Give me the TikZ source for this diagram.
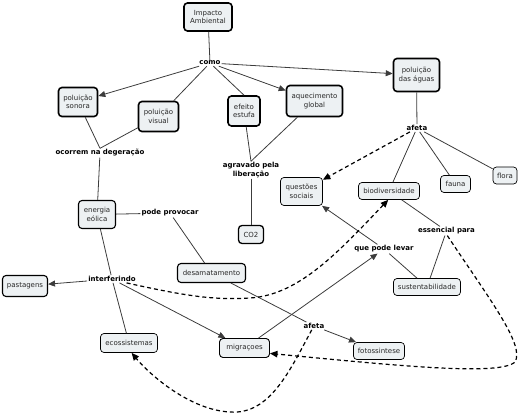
\documentclass[tikz,border=0pt]{standalone}
\usepackage{fontspec}
\setmainfont{DejaVu Sans}
\usetikzlibrary{arrows.meta}
\definecolor{boxfill}{RGB}{237,241,243}
\definecolor{linec}{RGB}{60,60,60}
\definecolor{txtc}{RGB}{40,40,40}
\begin{document}
\begin{tikzpicture}[x=1pt,y=-1pt,
  font=\fontsize{7}{8.4}\selectfont,
  box/.style={draw=black, fill=boxfill, rounded corners=3.5pt, align=center, inner sep=1pt, text=txtc},
  tbox/.style={box, line width=1.6pt},
  mbox/.style={box, line width=1.1pt},
  nbox/.style={box, line width=0.7pt},
  lbl/.style={font=\fontsize{7}{8.4}\selectfont\bfseries, align=center, inner sep=1pt, fill=white, text=black},
  conn/.style={draw=linec, line width=0.8pt},
  arr/.style={conn, -{Triangle[length=7pt,width=6pt]}},
  darr/.style={draw=black, line width=1.2pt, dash pattern=on 4pt off 3pt, -{Triangle[length=7.5pt,width=6.5pt]}}
]
\useasboundingbox (0,0) rectangle (520,414);
% boxes
\node[tbox, minimum width=48pt, minimum height=28pt] (imp) at (208,17) {Impacto\\Ambiental};
\node[tbox, minimum width=39pt, minimum height=29pt] (son) at (78,102) {poluição\\sonora};
\node[tbox, minimum width=40pt, minimum height=30pt] (vis) at (158.5,116.5) {poluição\\visual};
\node[tbox, minimum width=32pt, minimum height=30pt] (efe) at (244,111) {efeito\\estufa};
\node[tbox, minimum width=56pt, minimum height=31pt] (aqu) at (314.5,101) {aquecimento\\global};
\node[tbox, minimum width=46pt, minimum height=33pt] (agu) at (416.5,75) {poluição\\das águas};
\node[nbox, minimum width=42pt, minimum height=28pt] (que) at (301.5,191.5) {questões\\sociais};
\node[nbox, minimum width=61pt, minimum height=17pt] (bio) at (389,191) {biodiversidade};
\node[nbox, minimum width=30pt, minimum height=17pt] (fau) at (455.5,184) {fauna};
\node[nbox, minimum width=24pt, minimum height=17pt] (flo) at (505,175.5) {flora};
\node[mbox, minimum width=37pt, minimum height=28pt] (ene) at (97,214.5) {energia\\eólica};
\node[tbox, line width=1.3pt, minimum width=25pt, minimum height=18pt] (co2) at (251,234.5) {CO2};
\node[mbox, minimum width=68pt, minimum height=19pt] (des) at (211.5,273) {desamatamento};
\node[mbox, minimum width=45pt, minimum height=21pt] (pas) at (25,286) {pastagens};
\node[nbox, minimum width=57pt, minimum height=19pt] (eco) at (129,343) {ecossistemas};
\node[nbox, line width=0.9pt, minimum width=50pt, minimum height=19pt] (mig) at (244.5,348) {migraçoes};
\node[nbox, minimum width=67pt, minimum height=17pt] (sus) at (427,287) {sustentabilidade};
\node[nbox, minimum width=51pt, minimum height=17pt] (fot) at (379,351) {fotossintese};
% labels
\node[lbl] (como) at (210,63) {como};
\node[lbl] (oco) at (100,153) {ocorrem na degeração};
\node[lbl] (agr) at (251,170) {agravado pela\\liberação};
\node[lbl] (af1) at (417,128) {afeta};
\node[lbl] (pp) at (170,213) {pode provocar};
\node[lbl] (int) at (112,279) {interferindo};
\node[lbl] (qpl) at (384,249) {que pode levar};
\node[lbl] (ess) at (446.5,231) {essencial para};
\node[lbl] (af2) at (314,326) {afeta};
% solid connectors
\draw[conn] (imp) -- (como);
\draw[arr] (como) -- (son);
\draw[conn] (como) -- (vis);
\draw[conn] (como) -- (efe.north);
\draw[arr] (como) -- (aqu);
\draw[arr] (como) -- (agu);
\draw[conn] (son) -- (oco.north);
\draw[conn] (vis) -- (oco.north);
\draw[conn] (oco) -- (ene);
\draw[conn] (efe) -- (agr.north);
\draw[conn] (aqu) -- (agr.north);
\draw[conn] (agr) -- (co2);
\draw[conn] (agu) -- (af1);
\draw[conn] (af1) -- (bio);
\draw[conn] (af1) -- (fau);
\draw[conn] (af1) -- (flo);
\draw[conn] (bio) -- (ess);
\draw[conn] (ess) -- (sus);
\draw[conn] (ene) -- (pp);
\draw[conn] (pp) -- (des);
\draw[conn] (ene) -- (int);
\draw[conn] (int) -- (eco);
\draw[arr] (int) -- (pas);
\draw[arr] (int) -- (mig);
\draw[conn] (des) -- (af2);
\draw[arr] (af2) -- (fot);
\draw[arr] (mig) -- (qpl);
\draw[arr] (qpl) -- (que);
\draw[conn] (qpl) -- (sus);
% dashed connectors
\draw[darr] (af1) -- (que);
\draw[darr] (int.-15) .. controls (190,297) and (215,300) .. (250,298) .. controls (300,295) and (340,250) .. (bio.-95);
\draw[darr] (ess.-80) .. controls (490,300) and (525,345) .. (515,362) .. controls (500,376) and (400,366) .. (mig.-12);
\draw[darr] (af2.-120) .. controls (290,370) and (270,415) .. (230,412) .. controls (190,410) and (150,375) .. (eco.-75);
\end{tikzpicture}
\end{document}
